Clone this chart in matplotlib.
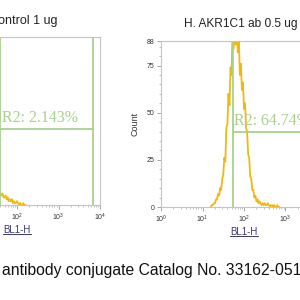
import numpy as np
import matplotlib.pyplot as plt
import matplotlib.ticker as ticker
from matplotlib.lines import Line2D
from matplotlib.transforms import IdentityTransform

plt.rcParams['font.family'] = ['Liberation Sans', 'DejaVu Sans']

# histogram bins, in decades of BL1-H
right_start, left_start, step = 1.2, 1.4, 0.025
right_counts = [0, 1, 1, 2, 2, 4, 4, 7, 6, 10, 9, 15, 17, 26, 24, 42, 44, 60, 54, 74,
                70, 95, 84, 96, 86, 95, 82, 90, 70, 76, 62, 66, 52, 55, 42, 40, 28,
                26, 16, 15, 9, 9, 5, 6, 3, 4, 2, 3, 2,
                1, 2, 1, 2, 1, 1, 2, 1, 0, 1, 1, 0, 1, 0, 0, 1, 0, 0]
left_counts = [12, 10, 11, 9, 9, 8, 7, 7, 6, 5, 6, 4, 4, 5, 3, 4, 2, 3, 2, 3, 1, 2,
               1, 1, 2, 1, 0, 1, 0, 0, 1, 0, 0]

titles = ["Isotype control 1 ug", "H. AKR1C1 ab 0.5 ug"]
gate_labels = ["R2: 2.143%", "R2: 64.74%"]
left_gate = [1.59, 3.83]
right_gate = [1.73, 3.97]
gate_level = 40

hist_color = '#f2b90c'
gate_color = '#a9d18e'
frame_color = '#c4c4c4'

fig = plt.figure(figsize=(3, 3), dpi=100)
axL = fig.add_axes([-66/300, 1-205/300, 166/300, 168/300])
axR = fig.add_axes([161/300, 1-207/300, 166/300, 166/300])

for ax, start, counts, gate, glabel in [(axL, left_start, left_counts, left_gate, gate_labels[0]),
                                          (axR, right_start, right_counts, right_gate, gate_labels[1])]:
    dec = start + step*np.arange(len(counts))
    ax.plot(10**dec, counts, color=hist_color, lw=1.3)
    ax.set_xscale('log')
    ax.set_xlim(1, 1e4)
    ax.set_ylim(0, 88)
    g0, g1 = 10**gate[0], 10**gate[1]
    ax.axvline(g0, color=gate_color, lw=1.3)
    ax.axvline(g1, color=gate_color, lw=1.3)
    ax.plot([g0, g1], [gate_level, gate_level], color=gate_color, lw=1.3)
    ax.text(10**(gate[0]+0.04), gate_level+1.5, glabel, color=gate_color,
            family='Liberation Serif', fontsize=11.5, ha='left', va='bottom')
    for s in ax.spines.values():
        s.set_color(frame_color)
        s.set_linewidth(0.8)
    ax.xaxis.set_major_locator(ticker.LogLocator(base=10, numticks=10))
    ax.xaxis.set_minor_locator(ticker.LogLocator(base=10, subs=np.arange(2, 10), numticks=10))
    ax.xaxis.set_minor_formatter(ticker.NullFormatter())
    ax.set_yticks([0, 25, 50, 75, 88])
    ax.yaxis.set_minor_locator(ticker.MultipleLocator(5))
    ax.tick_params(which='major', length=3, width=0.6, color='#999999',
                   labelsize=5, labelcolor='#333333', pad=1.5)
    ax.tick_params(which='minor', length=1.5, width=0.5, color='#aaaaaa')
    ax.set_xlabel('BL1-H', fontsize=7, color='#3a3a7a', labelpad=1.5)

axR.set_ylabel('Count', fontsize=6.5, color='#333333', labelpad=5)

fig.text(57/300, 1-21/300, titles[0], fontsize=9, color='#222222', ha='right', va='center')
fig.text(241/300, 1-24/300, titles[1], fontsize=8.6, color='#222222', ha='center', va='center')
fig.text(2/300, 1-270/300, 'antibody conjugate Catalog No. 33162-051', fontsize=11.3,
         color='#111111', ha='left', va='center')

# underline the axis labels
fig.canvas.draw()
for ax in (axL, axR):
    bb = ax.xaxis.label.get_window_extent()
    fig.add_artist(Line2D([bb.x0, bb.x1], [bb.y0 + 0.5, bb.y0 + 0.5],
                          transform=IdentityTransform(), color='#3a3a7a', lw=0.7))

fig.savefig('out.png', dpi=100)
